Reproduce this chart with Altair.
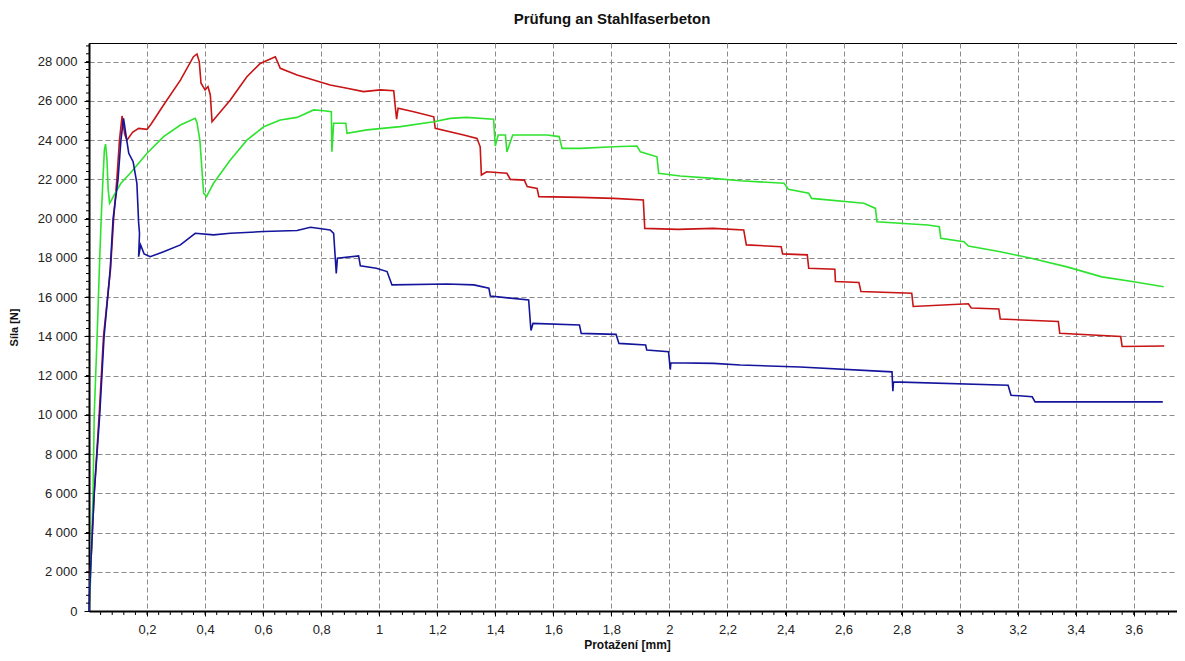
import altair as alt
import pandas as pd

TITLE = "Prüfung an Stahlfaserbeton"
X_TITLE = "Protažení [mm]"
Y_TITLE = "Síla [N]"
SERIES = ["rot", "grün", "blau"]
COLORS = ["#c81414", "#2ee32e", "#14149c"]

RED_X = [0, 0.005, 0.018, 0.035, 0.05, 0.074, 0.085, 0.096, 0.105, 0.114, 0.123, 0.131, 0.15, 0.171, 0.2, 0.213,
         0.257, 0.315, 0.36, 0.372, 0.38, 0.386, 0.40, 0.41, 0.418, 0.424, 0.487, 0.544, 0.59, 0.642, 0.659, 0.717,
         0.774, 0.831, 0.889, 0.946, 1.004, 1.05, 1.056, 1.06, 1.065, 1.119, 1.188, 1.193, 1.291, 1.337, 1.348,
         1.352, 1.37, 1.44, 1.452, 1.5, 1.51, 1.544, 1.55, 1.693, 1.808, 1.91, 1.915, 2.03, 2.15, 2.256, 2.265,
         2.385, 2.39, 2.475, 2.48, 2.57, 2.572, 2.653, 2.66, 2.835, 2.84, 3.03, 3.04, 3.135, 3.14, 3.34, 3.345,
         3.555, 3.56, 3.705]
RED_Y = [0, 2000, 6000, 10000, 14000, 17400, 20000, 22000, 24000, 25230, 24300, 24000, 24400, 24600, 24550, 24800,
         25790, 27060, 28250, 28390, 28000, 26900, 26560, 26730, 26300, 24940, 26050, 27230, 27910, 28250, 27660, 27320,
         27060, 26810, 26640, 26470, 26560, 26520, 25620, 25070, 25620, 25450, 25190, 24600, 24260, 24090, 23660,
         22220, 22390, 22310, 22000, 21960, 21630, 21540, 21120, 21080, 21030, 20950, 19500, 19450, 19500, 19420, 18660,
         18570, 18200, 18150, 17470, 17420, 16790, 16740, 16280, 16200, 15520, 15660, 15440, 15390, 14880, 14760, 14160,
         13990, 13480, 13510]

GREEN_X = [0, 0.005, 0.014, 0.018, 0.028, 0.037, 0.042, 0.048, 0.053, 0.057, 0.062, 0.066, 0.071, 0.076, 0.09, 0.11,
           0.142, 0.2, 0.257, 0.315, 0.366, 0.372, 0.382, 0.395, 0.405, 0.429, 0.487, 0.544, 0.602, 0.659, 0.717,
           0.774, 0.81, 0.835, 0.837, 0.843, 0.885, 0.889, 0.958, 1.073, 1.188, 1.245, 1.30, 1.394, 1.40, 1.41,
           1.435, 1.44, 1.46, 1.578, 1.62, 1.63, 1.693, 1.808, 1.888, 1.90, 1.957, 1.963, 2.037, 2.152, 2.244, 2.395,
           2.41, 2.48, 2.49, 2.67, 2.71, 2.715, 2.89, 2.93, 2.935, 3.015, 3.03, 3.14, 3.25, 3.37, 3.49, 3.60, 3.703]
GREEN_Y = [0, 1500, 6000, 10000, 14000, 18000, 20000, 22000, 23500, 23800, 23000, 21500, 20780, 20900, 21300, 21800,
           22310, 23330, 24175, 24770, 25110, 24900, 24000, 21290, 21120, 21800, 22990, 24000, 24680, 25030, 25160,
           25540, 25500, 25450, 23410, 24860, 24860, 24350, 24520, 24690, 24940, 25110, 25160, 25060, 23700, 24260,
           24260, 23400, 24260, 24260, 24180, 23580, 23580, 23660, 23700, 23400, 23150, 22310, 22170, 22050, 21930, 21800,
           21500, 21290, 21030, 20780, 20520, 19840, 19670, 19590, 19000, 18820, 18600, 18310, 17970, 17540, 17030, 16780,
           16530]

BLUE_X = [0, 0.005, 0.018, 0.037, 0.052, 0.073, 0.083, 0.1, 0.11, 0.119, 0.13, 0.137, 0.152, 0.165, 0.171, 0.174,
          0.171, 0.178, 0.19, 0.211, 0.257, 0.315, 0.366, 0.429, 0.487, 0.602, 0.717, 0.763, 0.831, 0.843, 0.852,
          0.856, 0.929, 0.935, 0.99, 1.027, 1.044, 1.234, 1.326, 1.378, 1.383, 1.515, 1.521, 1.523, 1.53, 1.69,
          1.696, 1.816, 1.826, 1.918, 1.922, 1.997, 2.003, 2.005, 2.152, 2.244, 2.45, 2.767, 2.77, 2.772, 3.167,
          3.177, 3.25, 3.26, 3.49, 3.70]
BLUE_Y = [0, 2000, 6000, 10000, 14000, 17400, 20000, 22000, 24000, 25110, 24000, 23330, 22900, 21800, 19800, 19240,
          18060, 18660, 18200, 18060, 18310, 18660, 19250, 19170, 19250, 19340, 19390, 19560, 19420, 19250, 17210,
          17980, 18100, 17590, 17470, 17300, 16620, 16670, 16620, 16450, 16050, 15850, 14660, 14300, 14660, 14580,
          14150, 14100, 13640, 13560, 13300, 13210, 12300, 12650, 12620, 12540, 12440, 12190, 11200, 11680, 11510,
          11000, 10920, 10660, 10660, 10660]

X_TICKS = [0.2, 0.4, 0.6, 0.8, 1.0, 1.2, 1.4, 1.6, 1.8, 2.0, 2.2, 2.4, 2.6, 2.8, 3.0, 3.2, 3.4, 3.6]
Y_TICKS = [0, 2000, 4000, 6000, 8000, 10000, 12000, 14000, 16000, 18000, 20000, 22000, 24000, 26000, 28000]

X_MAX = 3.749
Y_MAX = 28950
W, H = 1088, 568
FONT = "Liberation Sans"

rows = []
for name, xs, ys in [(SERIES[0], RED_X, RED_Y), (SERIES[1], GREEN_X, GREEN_Y), (SERIES[2], BLUE_X, BLUE_Y)]:
    for i, (xv, yv) in enumerate(zip(xs, ys)):
        rows.append({"serie": name, "i": i, "x": xv, "y": yv})
df = pd.DataFrame(rows)

x_minor = pd.DataFrame({"x": [round(0.04 * k, 2) for k in range(1, 94)]})
y_minor = pd.DataFrame({"y": [400 * k for k in range(1, 73)]})

xscale = alt.Scale(domain=[0, X_MAX], nice=False, zero=False)
yscale = alt.Scale(domain=[0, Y_MAX], nice=False, zero=False)

xaxis = alt.Axis(values=X_TICKS,
                 labelExpr="replace(format(datum.value, '~g'), '.', ',')",
                 grid=True, gridDash=[5, 3], gridColor="#8a8a8a", gridWidth=1,
                 domainColor="black", domainWidth=2, tickColor="black", tickSize=5,
                 labelPadding=7, labelFontSize=13, labelFont=FONT, labelColor="#222",
                 titleFont=FONT, titleFontSize=12, titleFontWeight="bold", titleColor="#111",
                 titlePadding=3, titleX=538)
yaxis = alt.Axis(values=Y_TICKS,
                 labelExpr="replace(format(datum.value, ','), ',', ' ')",
                 grid=True, gridDash=[5, 3], gridColor="#8a8a8a", gridWidth=1,
                 domainColor="black", domainWidth=2, tickColor="black", tickSize=5,
                 labelPadding=7, labelFontSize=13, labelFont=FONT, labelColor="#222",
                 titleFont=FONT, titleFontSize=11, titleFontWeight="bold", titleColor="#111",
                 titlePadding=18)

lines = alt.Chart(df).mark_line(strokeWidth=1.6).encode(
    x=alt.X("x:Q", scale=xscale, title=X_TITLE, axis=xaxis),
    y=alt.Y("y:Q", scale=yscale, title=Y_TITLE, axis=yaxis),
    color=alt.Color("serie:N", scale=alt.Scale(domain=SERIES, range=COLORS), legend=None),
    order=alt.Order("i:Q"),
)

xticks = alt.Chart(x_minor).mark_rule(color="black", strokeWidth=1).encode(
    x=alt.X("x:Q", scale=xscale, title=X_TITLE, axis=xaxis),
    y=alt.value(H), y2=alt.value(H + 4),
)
yticks = alt.Chart(y_minor).mark_rule(color="black", strokeWidth=1).encode(
    y=alt.Y("y:Q", scale=yscale, title=Y_TITLE, axis=yaxis),
    x=alt.value(0), x2=alt.value(-3),
)

chart = alt.layer(lines, xticks, yticks).properties(
    width=W, height=H,
    title=alt.TitleParams(TITLE, font=FONT, fontSize=15, fontWeight="bold", color="#111",
                          anchor="middle", dx=-21, offset=16),
    autosize=alt.AutoSizeParams(type="none"),
    padding={"left": 81, "top": 35, "right": 0, "bottom": 42},
).configure_view(stroke="black", strokeWidth=1)

chart.save("out.html", embed_options={"renderer": "svg", "actions": False})
